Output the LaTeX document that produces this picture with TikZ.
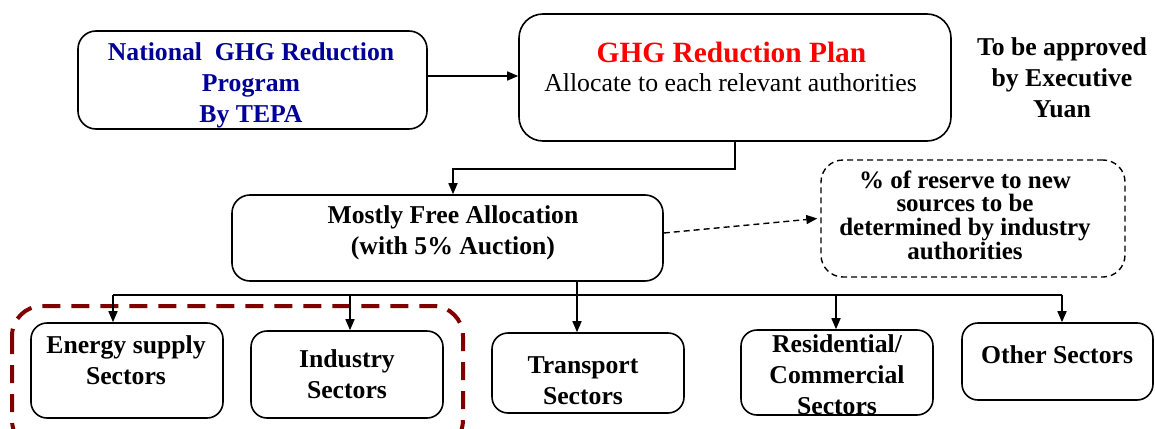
\documentclass[tikz,border=0pt]{standalone}
\usepackage{fontspec}
\setmainfont{Liberation Serif}
\usetikzlibrary{arrows.meta,calc}
\definecolor{tblue}{RGB}{0,0,153}
\definecolor{tred}{RGB}{255,0,0}
\definecolor{dred}{RGB}{128,0,0}
\begin{document}
\begin{tikzpicture}[x=1pt,y=-1pt,
  box/.style={draw,line width=1.6pt,rounded corners=18pt,inner sep=0pt},
  dbox/.style={draw,line width=1.4pt,rounded corners=22pt,inner sep=0pt,dash pattern=on 6pt off 4pt},
  txt/.style={inner sep=0pt,align=center,font=\fontsize{25.7}{31}\selectfont\bfseries},
  arr/.style={line width=1.6pt,-{Triangle[length=11pt,width=9pt]}},
  darr/.style={line width=1.4pt,dash pattern=on 6pt off 4pt,-{Triangle[length=11pt,width=9pt]}},
  grp/.style={draw=dred,line width=4pt,dash pattern=on 18pt off 11pt,rounded corners=30pt}
]
\clip (0,0) rectangle (1155,428);
\useasboundingbox (0,0) rectangle (1155,428);

% boxes
\node[box,minimum width=349pt,minimum height=98pt] (b1) at (252.5,80) {};
\node[box,minimum width=432pt,minimum height=127pt,rounded corners=24pt] (b2) at (735,77.5) {};
\node[box,minimum width=431pt,minimum height=86pt] (b3) at (447.5,238) {};
\node[dbox,minimum width=304pt,minimum height=117pt] (db) at (973,218.5) {};
\node[box,minimum width=192pt,minimum height=95pt,rounded corners=16pt] (en) at (127,370.5) {};
\node[box,minimum width=192pt,minimum height=87pt,rounded corners=16pt] (ind) at (347,374.5) {};
\node[box,minimum width=192pt,minimum height=80pt,rounded corners=16pt] (tr) at (588,373) {};
\node[box,minimum width=192pt,minimum height=85pt,rounded corners=16pt] (res) at (837,372.5) {};
\node[box,minimum width=191pt,minimum height=77pt,rounded corners=16pt] (oth) at (1057.5,361.5) {};

% group
\draw[grp] (12,306) rectangle (463,450);

% texts
\node[txt,text=tblue] (t1) at (251,85) {National~~GHG Reduction\\Program\\By TEPA};
\node[txt,text=tred,font=\fontsize{29.4}{31}\selectfont\bfseries] (t2a) at (731.5,52) {GHG Reduction Plan};
\node[txt,font=\fontsize{25.8}{31}\selectfont] (t2b) at (730.5,83) {Allocate to each relevant authorities};
\node[txt] (tap) at (1062,78) {To be approved\\by Executive\\Yuan};
\node[txt] (t3) at (453,233) {Mostly Free Allocation\\(with 5\% Auction)};
\node[txt,font=\fontsize{25}{23.6}\selectfont\bfseries] (tdb) at (965,215) {\% of reserve to new\\sources to be\\determined by industry\\authorities};
\node[txt] (ten) at (126,360) {Energy supply\\Sectors};
\node[txt] (tind) at (347,374.5) {Industry\\Sectors};
\node[txt] (ttr) at (583,381) {Transport\\Sectors};
\node[txt] (tres) at (837,375) {Residential/\\Commercial\\Sectors};
\node[txt] (toth) at (1057,355) {Other Sectors};

% connectors
\draw[arr] (b1.east |- 0,76) -- (b2.west |- 0,76);
\draw[arr] (b2.south) -- ++(0,27) -| ([xshift=5.5pt]b3.north);
\draw[darr] ([yshift=5pt]b3.east) -- ([xshift=-3pt]db.west);

\coordinate (busL) at (113,295);
\coordinate (busR) at (1062,295);
\draw[line width=1.6pt] (busL) -- (busR);
\draw[arr] ([xshift=-14pt]en.north |- busL) -- ([xshift=-14pt]en.north);
\draw[arr] ([xshift=3pt]ind.north |- busL) -- ([xshift=3pt]ind.north);
\draw[arr] ([xshift=-11pt]b3.south -| tr.north) -- ([xshift=-11pt]tr.north);
\draw[arr] ([xshift=-1pt]res.north |- busL) -- ([xshift=-1pt]res.north);
\draw[arr] ([xshift=4.5pt]oth.north |- busL) -- ([xshift=4.5pt]oth.north);
\end{tikzpicture}
\end{document}
